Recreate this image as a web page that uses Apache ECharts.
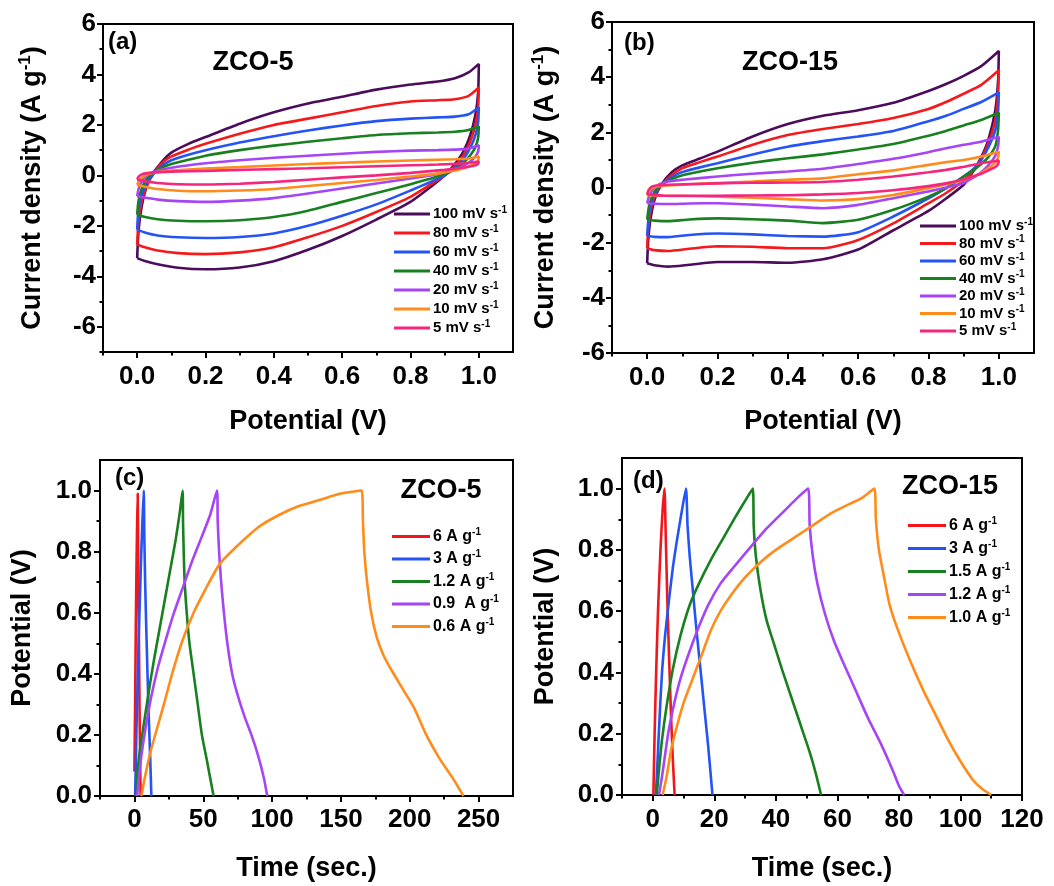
<!DOCTYPE html>
<html lang="en" style="height: 100%">
<head>
  <meta charset="utf-8">
</head>
<body style="height: 100%; margin: 0; background: #fff">
  <div id="container" style="width: 1054px; height: 886px"></div>

  <script type="text/javascript" src="https://cdn.jsdelivr.net/npm/echarts@6/dist/echarts.min.js"></script>
  <script type="text/javascript">
    // ---- CV loops, panel (a) ZCO-5 : [potential V, current A/g]
    var cvA100 = [[0,-3.28],[0.003,-2.4],[0.01,-1.5],[0.022,-0.7],[0.04,-0.05],[0.07,0.5],[0.1,0.9],[0.15,1.25],[0.2,1.52],[0.3,2.05],[0.4,2.5],[0.5,2.85],[0.6,3.12],[0.7,3.4],[0.8,3.6],[0.88,3.72],[0.93,3.85],[0.97,4.08],[1.0,4.42],
      [0.998,3.3],[0.99,2.4],[0.975,1.6],[0.955,0.95],[0.93,0.45],[0.9,0.0],[0.86,-0.45],[0.8,-1.05],[0.7,-1.75],[0.6,-2.4],[0.5,-2.95],[0.4,-3.4],[0.3,-3.65],[0.2,-3.72],[0.12,-3.66],[0.06,-3.52],[0.02,-3.38],[0,-3.28]];
    var cvA80 = [[0,-2.74],[0.003,-2.0],[0.01,-1.25],[0.025,-0.5],[0.045,0.0],[0.07,0.45],[0.1,0.75],[0.15,1.02],[0.2,1.25],[0.3,1.65],[0.4,2.0],[0.5,2.25],[0.6,2.5],[0.7,2.75],[0.8,2.93],[0.88,2.98],[0.93,3.02],[0.97,3.15],[1.0,3.48],
      [0.998,2.7],[0.99,2.0],[0.975,1.35],[0.955,0.8],[0.93,0.38],[0.9,0.0],[0.86,-0.35],[0.8,-0.85],[0.7,-1.45],[0.6,-2.0],[0.5,-2.45],[0.4,-2.85],[0.3,-3.05],[0.2,-3.12],[0.12,-3.08],[0.06,-2.98],[0.02,-2.84],[0,-2.74]];
    var cvA60 = [[0,-2.15],[0.003,-1.5],[0.012,-0.85],[0.028,-0.3],[0.05,0.1],[0.075,0.4],[0.1,0.6],[0.15,0.82],[0.2,1.0],[0.3,1.3],[0.4,1.55],[0.5,1.78],[0.6,1.98],[0.7,2.15],[0.8,2.25],[0.88,2.3],[0.93,2.33],[0.97,2.42],[1.0,2.7],
      [0.998,2.1],[0.99,1.6],[0.975,1.1],[0.955,0.65],[0.93,0.3],[0.9,0.0],[0.86,-0.25],[0.8,-0.6],[0.7,-1.15],[0.6,-1.6],[0.5,-2.0],[0.4,-2.3],[0.3,-2.44],[0.2,-2.48],[0.12,-2.45],[0.06,-2.38],[0.02,-2.25],[0,-2.15]];
    var cvA40 = [[0,-1.55],[0.004,-1.0],[0.014,-0.5],[0.03,-0.1],[0.055,0.2],[0.1,0.45],[0.15,0.62],[0.2,0.78],[0.3,1.0],[0.4,1.18],[0.5,1.33],[0.6,1.47],[0.7,1.6],[0.8,1.67],[0.88,1.7],[0.93,1.73],[0.97,1.8],[1.0,1.95],
      [0.998,1.5],[0.99,1.12],[0.975,0.8],[0.955,0.5],[0.93,0.25],[0.9,0.05],[0.86,-0.12],[0.8,-0.35],[0.7,-0.7],[0.6,-1.05],[0.5,-1.4],[0.4,-1.65],[0.3,-1.78],[0.2,-1.82],[0.12,-1.8],[0.06,-1.74],[0.02,-1.64],[0,-1.55]];
    var cvA20 = [[0,-0.83],[0.005,-0.5],[0.015,-0.2],[0.03,0.02],[0.05,0.15],[0.1,0.3],[0.2,0.48],[0.3,0.6],[0.4,0.7],[0.5,0.78],[0.6,0.86],[0.7,0.93],[0.8,0.98],[0.88,1.0],[0.93,1.02],[0.97,1.06],[1.0,1.2],
      [0.998,0.95],[0.99,0.75],[0.975,0.55],[0.955,0.38],[0.93,0.24],[0.9,0.12],[0.86,0.0],[0.8,-0.12],[0.7,-0.32],[0.6,-0.52],[0.5,-0.72],[0.4,-0.9],[0.3,-1.0],[0.2,-1.05],[0.12,-1.02],[0.06,-0.96],[0.02,-0.88],[0,-0.83]];
    var cvA10 = [[0,-0.37],[0.006,-0.2],[0.018,-0.05],[0.035,0.06],[0.06,0.13],[0.1,0.19],[0.2,0.27],[0.3,0.33],[0.4,0.39],[0.5,0.45],[0.6,0.5],[0.7,0.55],[0.8,0.59],[0.88,0.62],[0.93,0.64],[0.97,0.67],[1.0,0.75],
      [0.998,0.6],[0.99,0.48],[0.97,0.35],[0.94,0.22],[0.9,0.12],[0.85,0.02],[0.8,-0.05],[0.7,-0.18],[0.6,-0.3],[0.5,-0.42],[0.4,-0.54],[0.3,-0.6],[0.2,-0.63],[0.12,-0.61],[0.06,-0.54],[0.02,-0.44],[0,-0.37]];
    var cvA5 = [[0,-0.16],[0.004,-0.06],[0.012,0.03],[0.025,0.08],[0.05,0.12],[0.1,0.15],[0.2,0.18],[0.3,0.22],[0.4,0.25],[0.5,0.28],[0.6,0.32],[0.7,0.36],[0.8,0.4],[0.88,0.43],[0.93,0.46],[0.97,0.49],[1.0,0.55],
      [0.998,0.46],[0.99,0.4],[0.97,0.34],[0.94,0.28],[0.9,0.22],[0.8,0.1],[0.7,0.0],[0.6,-0.08],[0.5,-0.17],[0.4,-0.26],[0.3,-0.33],[0.2,-0.36],[0.12,-0.35],[0.06,-0.3],[0.02,-0.22],[0,-0.16]];

    // ---- CV loops, panel (b) ZCO-15
    var cvB100 = [[0,-2.75],[0.003,-1.9],[0.01,-1.1],[0.022,-0.4],[0.04,0.1],[0.07,0.55],[0.1,0.8],[0.15,1.05],[0.2,1.3],[0.3,1.85],[0.4,2.3],[0.5,2.6],[0.6,2.8],[0.7,3.07],[0.8,3.5],[0.85,3.75],[0.9,4.05],[0.95,4.4],[1.0,4.95],
      [0.998,3.9],[0.99,2.8],[0.97,1.72],[0.95,1.1],[0.93,0.64],[0.9,0.1],[0.85,-0.4],[0.8,-0.85],[0.7,-1.55],[0.6,-2.25],[0.5,-2.6],[0.4,-2.73],[0.3,-2.7],[0.2,-2.7],[0.12,-2.8],[0.06,-2.87],[0.02,-2.82],[0,-2.75]];
    var cvB80 = [[0,-2.2],[0.003,-1.5],[0.01,-0.85],[0.024,-0.25],[0.045,0.15],[0.07,0.45],[0.1,0.7],[0.15,0.92],[0.2,1.12],[0.3,1.55],[0.4,1.9],[0.5,2.12],[0.6,2.3],[0.7,2.52],[0.8,2.85],[0.85,3.1],[0.9,3.4],[0.95,3.72],[1.0,4.25],
      [0.998,3.4],[0.99,2.45],[0.97,1.6],[0.95,1.05],[0.93,0.65],[0.9,0.25],[0.85,-0.2],[0.8,-0.57],[0.7,-1.3],[0.6,-1.9],[0.5,-2.2],[0.4,-2.2],[0.3,-2.15],[0.2,-2.13],[0.12,-2.22],[0.06,-2.3],[0.02,-2.27],[0,-2.2]];
    var cvB60 = [[0,-1.75],[0.004,-1.1],[0.012,-0.55],[0.028,-0.1],[0.05,0.2],[0.08,0.45],[0.1,0.56],[0.15,0.73],[0.2,0.88],[0.3,1.2],[0.4,1.48],[0.5,1.68],[0.6,1.85],[0.7,2.05],[0.8,2.4],[0.85,2.6],[0.9,2.85],[0.95,3.1],[1.0,3.45],
      [0.998,2.8],[0.99,2.08],[0.97,1.45],[0.95,1.0],[0.93,0.7],[0.9,0.4],[0.85,-0.02],[0.8,-0.39],[0.7,-1.05],[0.6,-1.62],[0.5,-1.78],[0.4,-1.76],[0.3,-1.7],[0.2,-1.67],[0.12,-1.72],[0.06,-1.8],[0.02,-1.79],[0,-1.75]];
    var cvB40 = [[0,-1.17],[0.005,-0.7],[0.015,-0.3],[0.03,0.0],[0.055,0.22],[0.1,0.44],[0.15,0.58],[0.2,0.7],[0.3,0.9],[0.4,1.06],[0.5,1.2],[0.6,1.38],[0.7,1.58],[0.8,1.88],[0.85,2.05],[0.9,2.25],[0.95,2.45],[1.0,2.71],
      [0.998,2.1],[0.99,1.5],[0.97,1.1],[0.95,0.85],[0.93,0.65],[0.9,0.4],[0.85,-0.02],[0.8,-0.33],[0.7,-0.81],[0.6,-1.17],[0.5,-1.29],[0.4,-1.2],[0.3,-1.15],[0.2,-1.12],[0.12,-1.16],[0.06,-1.22],[0.02,-1.2],[0,-1.17]];
    var cvB20 = [[0,-0.57],[0.006,-0.3],[0.018,-0.05],[0.035,0.12],[0.06,0.22],[0.1,0.28],[0.2,0.4],[0.3,0.5],[0.4,0.58],[0.5,0.68],[0.6,0.85],[0.7,1.04],[0.8,1.28],[0.85,1.42],[0.9,1.55],[0.95,1.66],[1.0,1.84],
      [0.998,1.5],[0.99,1.15],[0.97,0.8],[0.95,0.55],[0.93,0.38],[0.9,0.16],[0.85,0.0],[0.8,-0.14],[0.7,-0.39],[0.6,-0.63],[0.5,-0.75],[0.4,-0.69],[0.3,-0.62],[0.2,-0.57],[0.12,-0.58],[0.06,-0.6],[0.02,-0.59],[0,-0.57]];
    var cvB10 = [[0,-0.28],[0.006,-0.12],[0.018,0.0],[0.04,0.06],[0.1,0.1],[0.2,0.16],[0.3,0.22],[0.4,0.28],[0.5,0.33],[0.6,0.48],[0.7,0.62],[0.8,0.82],[0.85,0.92],[0.9,1.0],[0.95,1.12],[1.0,1.3],
      [0.998,1.1],[0.99,0.9],[0.97,0.7],[0.95,0.52],[0.9,0.28],[0.85,0.12],[0.8,-0.02],[0.7,-0.27],[0.6,-0.42],[0.5,-0.47],[0.4,-0.42],[0.3,-0.37],[0.2,-0.33],[0.1,-0.31],[0.04,-0.3],[0,-0.28]];
    var cvB5 = [[0,-0.25],[0.004,-0.1],[0.012,0.02],[0.03,0.08],[0.06,0.1],[0.2,0.15],[0.3,0.17],[0.4,0.18],[0.5,0.2],[0.6,0.28],[0.7,0.4],[0.8,0.55],[0.85,0.64],[0.9,0.75],[0.95,0.88],[1.0,0.98],
      [0.998,0.85],[0.99,0.75],[0.97,0.62],[0.95,0.5],[0.9,0.3],[0.85,0.15],[0.8,0.05],[0.7,-0.1],[0.6,-0.2],[0.5,-0.25],[0.4,-0.28],[0.3,-0.29],[0.2,-0.3],[0.1,-0.3],[0.05,-0.3],[0,-0.25]];

    // ---- GCD curves, panel (c) ZCO-5 : [time s, potential V]
    var gcdC6 = [[0,0.08],[0.5,0.3],[1,0.55],[1.5,0.75],[2,0.9],[2.4,0.99],[2.8,0.75],[3.3,0.5],[3.8,0.25],[4.5,0]];
    var gcdC3 = [[0.5,0],[1,0.1],[1.5,0.22],[2.2,0.35],[3,0.5],[4,0.65],[5,0.8],[6,0.92],[6.8,1.0],[7.2,0.85],[7.8,0.7],[8.6,0.55],[9.5,0.4],[10.5,0.25],[11.5,0.12],[12.3,0]];
    var gcdC12 = [[1,0],[2,0.07],[4,0.15],[7,0.24],[10,0.33],[14,0.44],[18,0.54],[22,0.64],[26,0.74],[30,0.84],[33,0.93],[35,1.0],
      [35.3,0.9],[35.8,0.8],[36.5,0.7],[38,0.6],[40,0.5],[43,0.4],[46,0.3],[49,0.2],[52.5,0.12],[55,0.06],[57.5,0]];
    var gcdC09 = [[2,0],[3,0.05],[5,0.13],[8,0.22],[12,0.32],[17,0.42],[22,0.5],[28,0.59],[35,0.68],[42,0.77],[49,0.85],[55,0.92],[60,1.0],
      [60.5,0.9],[61.5,0.8],[63,0.7],[65,0.6],[67.5,0.5],[71,0.4],[75,0.33],[80,0.26],[85,0.2],[90,0.13],[94,0.06],[96.5,0]];
    var gcdC06 = [[5,0],[8,0.07],[12,0.15],[17,0.23],[22,0.31],[28,0.41],[35,0.51],[43,0.6],[52,0.68],[62,0.76],[75,0.82],[90,0.88],[105,0.92],[120,0.95],[135,0.97],[150,0.99],[165,1.0],
      [166,0.9],[167,0.8],[169,0.7],[172,0.6],[176,0.52],[181,0.46],[187,0.41],[195,0.35],[203,0.29],[212,0.2],[222,0.12],[231,0.06],[239,0]];

    // ---- GCD curves, panel (d) ZCO-15
    var gcdD6 = [[0.2,0],[0.6,0.2],[1.1,0.4],[1.7,0.6],[2.5,0.8],[3.2,0.93],[3.8,1.0],[4.2,0.85],[4.7,0.65],[5.3,0.45],[5.9,0.27],[6.5,0.12],[7.1,0]];
    var gcdD3 = [[1,0],[1.5,0.1],[2.2,0.25],[3,0.4],[4,0.52],[5.2,0.63],[6.5,0.74],[8,0.84],[9.5,0.93],[10.8,1.0],
      [11.3,0.88],[12,0.78],[13,0.67],[14,0.56],[15,0.46],[16,0.36],[17,0.26],[18,0.16],[19.4,0]];
    var gcdD15 = [[1.3,0],[2,0.08],[3,0.18],[4.5,0.29],[6.5,0.41],[9,0.52],[12,0.62],[15,0.69],[19,0.77],[23,0.84],[27,0.91],[30,0.96],[32.5,1.0],
      [32.8,0.88],[33.5,0.78],[35,0.67],[37,0.57],[39.5,0.49],[42,0.41],[45,0.32],[48,0.23],[51,0.14],[53,0.07],[54.7,0]];
    var gcdD12 = [[2,0],[3,0.06],[5,0.2],[7,0.3],[9,0.38],[12,0.47],[15,0.55],[18,0.62],[22,0.69],[26,0.74],[31,0.8],[37,0.87],[43,0.93],[47,0.97],[50.5,1.0],
      [51,0.88],[52,0.78],[53.5,0.69],[56,0.59],[59,0.5],[62,0.43],[66,0.34],[70,0.25],[74,0.17],[78,0.08],[80,0.03],[81.7,0]];
    var gcdD10 = [[3.2,0],[4.5,0.06],[6,0.15],[8,0.23],[10,0.3],[13,0.38],[16,0.46],[19,0.54],[22,0.6],[26,0.66],[30,0.71],[35,0.76],[40,0.8],[46,0.84],[52,0.88],[58,0.92],[64,0.95],[68,0.97],[72,1.0],
      [72.5,0.9],[73.5,0.8],[75,0.72],[77,0.62],[80,0.53],[84,0.43],[88,0.34],[92,0.26],[96,0.18],[100,0.11],[104,0.05],[107,0.02],[110,0]];

    // ---- legend labels and tick values
    var scanRates = ['100', '80', '60', '40', '20', '10', '5'];
    var currentsC = ['6', '3', '1.2', '0.9 ', '0.6'];
    var currentsD = ['6', '3', '1.5', '1.2', '1.0'];
    var cvXMajor = [0, 0.2, 0.4, 0.6, 0.8, 1.0];
    var cvXMinor = [-0.1, 0.1, 0.3, 0.5, 0.7, 0.9];
    var cvYMajor = [-6, -4, -2, 0, 2, 4, 6];
    var cvAYMinor = [-7, -5, -3, -1, 1, 3, 5];
    var cvBYMinor = [-5, -3, -1, 1, 3, 5];
    var gcdYMajor = [0, 0.2, 0.4, 0.6, 0.8, 1.0];
    var gcdYMinor = [0.1, 0.3, 0.5, 0.7, 0.9];
    var gcdCXMajor = [0, 50, 100, 150, 200, 250];
    var gcdCXMinor = [-25, 25, 75, 125, 175, 225];
    var gcdDXMajor = [0, 20, 40, 60, 80, 100, 120];
    var gcdDXMinor = [-10, 10, 30, 50, 70, 90, 110];

    var cvDataA = [cvA100, cvA80, cvA60, cvA40, cvA20, cvA10, cvA5];
    var cvDataB = [cvB100, cvB80, cvB60, cvB40, cvB20, cvB10, cvB5];
    var gcdDataC = [gcdC6, gcdC3, gcdC12, gcdC09, gcdC06];
    var gcdDataD = [gcdD6, gcdD3, gcdD15, gcdD12, gcdD10];

    var cvColors = ['#4b0c5c', '#f5191b', '#2454f5', '#18801f', '#a545f5', '#ff8c1a', '#f5267d'];
    var gcdColors = ['#f0161b', '#2454f5', '#18801f', '#a545f5', '#ff8c1a'];

    var FONT = '"Liberation Sans", Arial, sans-serif';

    var dom = document.getElementById('container');
    var myChart = echarts.init(dom, null, {renderer: 'canvas'});

    var grids = [
      {left: 103, top: 24, width: 410, height: 328},
      {left: 612, top: 22, width: 422, height: 331},
      {left: 100, top: 460, width: 413, height: 336},
      {left: 622, top: 458, width: 400, height: 337}
    ];
    grids.forEach(function (g) {
      g.show = true;
      g.borderColor = '#000';
      g.borderWidth = 2;
      g.backgroundColor = 'transparent';
    });

    var nameStyle = {
      color: '#000', fontSize: 27, fontWeight: 'bold', fontFamily: FONT,
      rich: {
        t: {color: '#000', fontSize: 27, fontWeight: 'bold', fontFamily: FONT, lineHeight: 32},
        s: {color: '#000', fontSize: 17, fontWeight: 'bold', fontFamily: FONT, verticalAlign: 'top', lineHeight: 17}
      }
    };

    var xAxes = [], yAxes = [];
    // main axis (labels + long ticks) plus an overlay axis carrying the short ticks
    function addAxes(list, isX, g, min, max, major, minor, fmt, name, gap, margin) {
      var pos = isX ? 'bottom' : 'left';
      list.push({
        type: 'value', gridIndex: g, min: min, max: max, position: pos,
        name: name, nameLocation: 'middle', nameGap: gap, nameTextStyle: nameStyle,
        axisLine: {show: true, onZero: false, lineStyle: {color: '#000', width: 2}},
        axisTick: {show: true, inside: false, customValues: major, length: 6, lineStyle: {color: '#000', width: 2}},
        axisLabel: {show: true, customValues: major, formatter: fmt, margin: margin,
          color: '#000', fontSize: 26, fontWeight: 'bold', fontFamily: FONT},
        splitLine: {show: false}
      });
      list.push({
        type: 'value', gridIndex: g, min: min, max: max, position: pos, offset: 0,
        axisLine: {show: false, onZero: false},
        axisTick: {show: true, inside: false, customValues: minor, length: 3.5, lineStyle: {color: '#000', width: 2}},
        axisLabel: {show: false},
        splitLine: {show: false}
      });
      return list.length - 2;
    }
    function f1(v) { return v.toFixed(1); }
    function f0(v) { return String(Math.round(v)); }

    var ax = [
      [addAxes(xAxes, true, 0, -0.1, 1.1, cvXMajor, cvXMinor, f1, 'Potential (V)', 56, 12),
       addAxes(yAxes, false, 0, -7, 6, cvYMajor, cvAYMinor, f0, '{t|Current density (A g}{s|-1}{t|)}', 54, 7)],
      [addAxes(xAxes, true, 1, -0.1, 1.1, cvXMajor, cvXMinor, f1, 'Potential (V)', 55, 12),
       addAxes(yAxes, false, 1, -6, 6, cvYMajor, cvBYMinor, f0, '{t|Current density (A g}{s|-1}{t|)}', 50, 7)],
      [addAxes(xAxes, true, 2, -25, 275, gcdCXMajor, gcdCXMinor, f0, 'Time (sec.)', 59, 11),
       addAxes(yAxes, false, 2, 0, 1.1, gcdYMajor, gcdYMinor, f1, 'Potential (V)', 64, 8)],
      [addAxes(xAxes, true, 3, -10, 120, gcdDXMajor, gcdDXMinor, f0, 'Time (sec.)', 60, 12),
       addAxes(yAxes, false, 3, 0, 1.1, gcdYMajor, gcdYMinor, f1, 'Potential (V)', 63, 8)]
    ];

    var legendText = {};
    var series = [];
    function addSeries(prefix, panel, labels, datas, colors, unit, width) {
      var names = [];
      labels.forEach(function (lab, i) {
        var nm = prefix + i;
        names.push(nm);
        legendText[nm] = '{t|' + lab + unit + '}{s|-1}';
        series.push({
          name: nm, type: 'line', data: datas[i],
          xAxisIndex: ax[panel][0], yAxisIndex: ax[panel][1],
          symbol: 'none', smooth: 0.2, silent: true,
          lineStyle: {color: colors[i], width: width},
          itemStyle: {color: colors[i]},
          emphasis: {disabled: true}
        });
      });
      return names;
    }
    var namesA = addSeries('a', 0, scanRates, cvDataA, cvColors, ' mV s', 2.6);
    var namesB = addSeries('b', 1, scanRates, cvDataB, cvColors, ' mV s', 2.6);
    var namesC = addSeries('c', 2, currentsC, gcdDataC, gcdColors, ' A g', 2.6);
    var namesD = addSeries('d', 3, currentsD, gcdDataD, gcdColors, ' A g', 2.6);

    // legend keys drawn as short thick bars (line look, no symbol)
    function mkLegend(names, left, top, gap, fs, w) {
      return {
        orient: 'vertical', left: left, top: top, padding: 0, itemGap: gap,
        icon: 'rect', itemWidth: w, itemHeight: 3, selectedMode: false, data: names,
        formatter: function (n) { return legendText[n]; },
        textStyle: {
          padding: [0, 0, 0, -2],
          rich: {
            t: {color: '#000', fontSize: fs, fontWeight: 'bold', fontFamily: FONT, lineHeight: fs + 3},
            s: {color: '#000', fontSize: Math.round(fs * 0.65), fontWeight: 'bold', fontFamily: FONT, verticalAlign: 'top', lineHeight: 10}
          }
        }
      };
    }

    function label(text, x, y, size, align) {
      return {
        type: 'text', x: x, y: y, silent: true,
        style: {text: text, fill: '#000', font: 'bold ' + size + 'px ' + FONT,
          align: align, verticalAlign: 'middle'}
      };
    }

    var option = {
      animation: false,
      backgroundColor: '#fff',
      grid: grids,
      xAxis: xAxes,
      yAxis: yAxes,
      legend: [
        mkLegend(namesA, 394, 205, 2.5, 15, 36),
        mkLegend(namesB, 920, 217, 1, 15, 36),
        mkLegend(namesC, 392, 527, 5, 16, 38),
        mkLegend(namesD, 908, 516, 5.5, 16, 38)
      ],
      graphic: [
        label('(a)', 108, 42, 24, 'left'),
        label('ZCO-5', 253, 63, 27, 'center'),
        label('(b)', 624, 43, 24, 'left'),
        label('ZCO-15', 790, 63, 27, 'center'),
        label('(c)', 115, 478, 24, 'left'),
        label('ZCO-5', 441, 491, 27, 'center'),
        label('(d)', 633, 481, 24, 'left'),
        label('ZCO-15', 950, 487, 27, 'center')
      ],
      series: series
    };

    myChart.setOption(option);

    window.addEventListener('resize', function () {
      myChart.resize();
    });
  </script>
</body>
</html>
